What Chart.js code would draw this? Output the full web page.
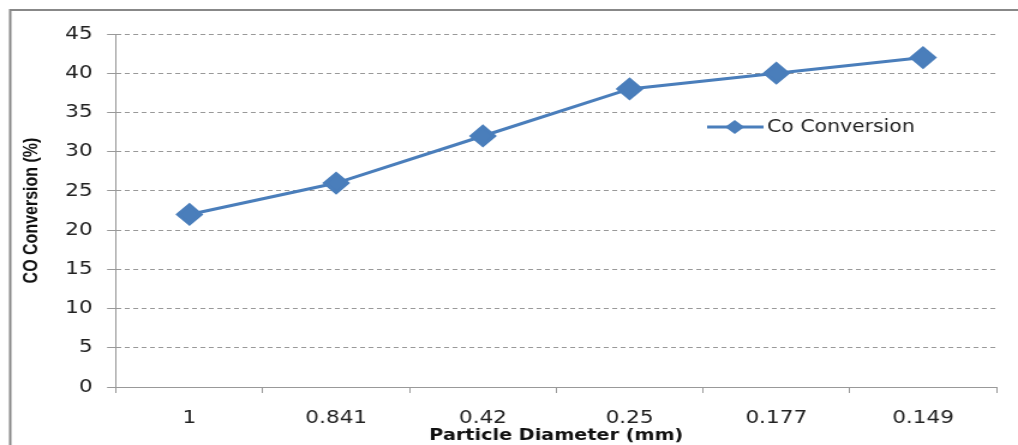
<!DOCTYPE html>
<html>
<head>
<meta charset="utf-8">
<script src="https://cdn.jsdelivr.net/npm/chart.js@4"></script>
<style>
  html, body { margin: 0; padding: 0; background: #fff; overflow: hidden; }
  #holder { width: 1018px; height: 445px; overflow: hidden; }
  /* the original picture is stretched sideways, so stretch the canvas too */
  #myChart { transform: scaleX(1.2005); transform-origin: 0 0; }
</style>
</head>
<body>
<div id="holder"><canvas id="myChart" width="848" height="445"></canvas></div>
<script>
var diameters = ['1', '0.841', '0.42', '0.25', '0.177', '0.149'];
var conversion = [22, 26, 32, 38, 40, 42];
var seriesName = 'Co Conversion';
var lineColor = '#4a7ebb';

// frame round the whole chart plus the legend inside the plot
var framePlugin = {
  id: 'frame',
  beforeDraw: function(chart) {
    var c = chart.ctx;
    c.save();
    c.fillStyle = '#fff';
    c.fillRect(0, 0, chart.width, chart.height);
    c.strokeStyle = '#888';
    c.lineWidth = 2;
    c.strokeRect(8.5, 10, chart.width + 20, chart.height + 20);
    c.restore();
  },
  afterDraw: function(chart) {
    var c = chart.ctx;
    var y = 127;
    var mx = 612;
    c.save();
    c.strokeStyle = lineColor;
    c.lineWidth = 3;
    c.beginPath();
    c.moveTo(589, y);
    c.lineTo(636, y);
    c.stroke();
    c.fillStyle = lineColor;
    c.beginPath();
    c.moveTo(mx - 8, y);
    c.lineTo(mx, y - 7);
    c.lineTo(mx + 8, y);
    c.lineTo(mx, y + 7);
    c.closePath();
    c.fill();
    c.fillStyle = '#222';
    c.font = '17px "DejaVu Sans"';
    c.textBaseline = 'middle';
    c.fillText(seriesName, 639, y + 1);
    c.restore();
  }
};

var ctx = document.getElementById('myChart').getContext('2d');
var myChart = new Chart(ctx, {
  type: 'line',
  data: {
    labels: diameters,
    datasets: [{
      label: seriesName,
      data: conversion,
      borderColor: lineColor,
      backgroundColor: lineColor,
      borderWidth: 3,
      pointStyle: 'rectRot',
      pointRadius: 9.5,
      pointHoverRadius: 9.5,
      tension: 0
    }]
  },
  options: {
    responsive: false,
    animation: false,
    layout: { padding: { left: 0, top: 34, right: 18, bottom: 0 } },
    plugins: { legend: { display: false }, tooltip: { enabled: false } },
    scales: {
      x: {
        offset: true,
        grid: { offset: true, drawOnChartArea: false, drawTicks: true, tickLength: 6, color: '#999' },
        border: { color: '#999', width: 1 },
        ticks: { color: '#222', font: { family: 'DejaVu Sans', size: 18 }, padding: 15 },
        title: {
          display: true, text: 'Particle Diameter (mm)', color: '#111',
          font: { family: 'DejaVu Sans', size: 16, weight: 'bold' },
          padding: { top: 0, bottom: 0 }
        },
        afterFit: function(scale) { scale.height = 58; }
      },
      y: {
        min: 0, max: 45,
        grid: { color: '#999', tickLength: 7.5 },
        border: { color: '#999', width: 1, dash: [4, 3] },
        ticks: { stepSize: 5, color: '#222', font: { family: 'DejaVu Sans', size: 18 }, padding: 12 },
        title: {
          display: true, text: 'CO Conversion (%)', color: '#111',
          font: { family: 'Liberation Sans', size: 16, weight: 'bold' },
          padding: { top: 17, bottom: 0 }
        },
        afterFit: function(scale) { scale.width = 96.7; }
      }
    }
  },
  plugins: [framePlugin]
});
</script>
</body>
</html>
